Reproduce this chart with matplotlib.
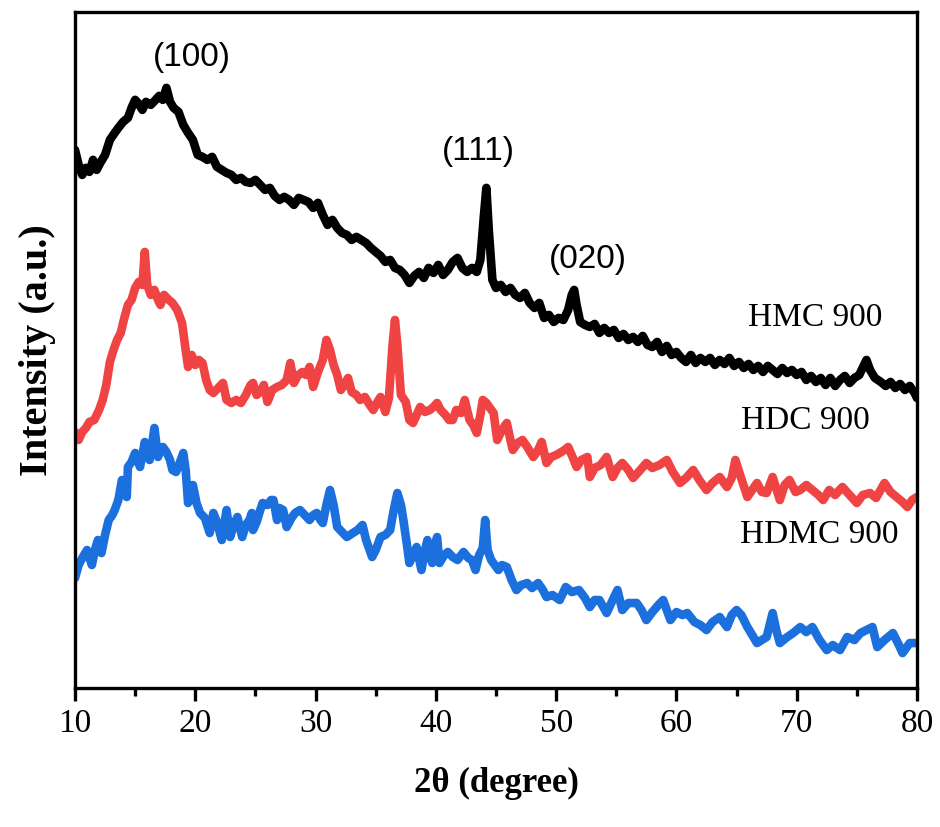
import matplotlib
matplotlib.use("Agg")
import matplotlib.pyplot as plt
from matplotlib.ticker import MultipleLocator

# ---------------- data (arbitrary units) ----------------
hmc_x = [10.0, 10.3, 10.6, 10.9, 11.2, 11.5, 11.8, 12.1, 12.5, 12.9,
         13.3, 13.6, 14.0, 14.4, 14.7, 15.0, 15.3, 15.6, 15.9, 16.3,
         16.7, 17.0, 17.3, 17.6, 17.9, 18.2, 18.6, 19.0, 19.4, 19.8,
         20.2, 20.6, 21.0, 21.4, 21.8, 22.2, 22.6, 23.0, 23.4, 23.8,
         24.2, 24.6, 25.0, 25.4, 25.8, 26.2, 26.6, 27.0, 27.4, 27.8,
         28.2, 28.6, 29.0, 29.4, 29.8, 30.2, 30.6, 31.0, 31.4, 31.8,
         32.2, 32.6, 33.0, 33.4, 33.8, 34.2, 34.6, 35.0, 35.4, 35.8,
         36.2, 36.6, 37.0, 37.4, 37.8, 38.2, 38.6, 39.0, 39.4, 39.8,
         40.2, 40.6, 41.0, 41.4, 41.8, 42.2, 42.6, 43.0, 43.4, 43.7,
         44.0, 44.2, 44.4, 44.7, 45.0, 45.4, 45.8, 46.2, 46.6, 47.0,
         47.4, 47.8, 48.2, 48.6, 49.0, 49.4, 49.8, 50.2, 50.6, 51.0,
         51.3, 51.5, 51.7, 52.0, 52.4, 52.8, 53.2, 53.6, 54.0, 54.4,
         54.8, 55.2, 55.6, 56.0, 56.4, 56.8, 57.2, 57.6, 58.0, 58.4,
         58.8, 59.2, 59.6, 60.0, 60.4, 60.8, 61.2, 61.6, 62.0, 62.4,
         62.8, 63.2, 63.6, 64.0, 64.4, 64.8, 65.2, 65.6, 66.0, 66.4,
         66.8, 67.2, 67.6, 68.0, 68.4, 68.8, 69.2, 69.6, 70.0, 70.4,
         70.8, 71.2, 71.6, 72.0, 72.4, 72.8, 73.2, 73.6, 74.0, 74.4,
         74.8, 75.2, 75.6, 75.8, 76.1, 76.5, 77.0, 77.4, 77.8, 78.2,
         78.6, 79.0, 79.4, 79.8, 80.0]
hmc_y = [538, 523, 513, 520, 516, 528, 518, 525, 533, 548,
         555, 560, 566, 570, 580, 588, 584, 578, 586, 583,
         588, 592, 588, 600, 586, 580, 576, 563, 555, 548,
         533, 531, 528, 531, 521, 518, 515, 513, 508, 510,
         506, 505, 508, 503, 498, 500, 492, 488, 491, 488,
         483, 490, 488, 486, 480, 485, 473, 463, 468, 460,
         455, 453, 448, 451, 448, 445, 440, 436, 432, 426,
         428, 420, 418, 413, 405, 412, 416, 410, 420, 415,
         423, 413, 418, 426, 430, 420, 416, 420, 416, 428,
         473, 500, 458, 408, 400, 403, 396, 400, 393, 390,
         395, 385, 380, 385, 370, 373, 366, 370, 368, 378,
         393, 398, 383, 366, 363, 361, 364, 355, 360, 355,
         358, 350, 354, 348, 351, 346, 352, 343, 341, 346,
         336, 342, 333, 336, 330, 326, 333, 325, 330, 326,
         330, 323, 328, 324, 330, 322, 326, 320, 324, 318,
         322, 316, 322, 318, 314, 320, 315, 318, 313, 316,
         308, 312, 306, 310, 303, 310, 302, 308, 312, 305,
         310, 313, 323, 328, 318, 310, 306, 302, 306, 300,
         304, 298, 302, 295, 290]

hdc_x = [10.0, 10.3, 10.6, 10.9, 11.2, 11.6, 12.0, 12.3, 12.6, 12.9,
         13.2, 13.5, 13.8, 14.1, 14.4, 14.7, 15.0, 15.3, 15.6, 15.8,
         16.0, 16.3, 16.6, 16.9, 17.1, 17.4, 17.8, 18.1, 18.5, 18.9,
         19.2, 19.4, 19.7, 20.0, 20.3, 20.6, 20.9, 21.2, 21.5, 21.9,
         22.3, 22.6, 23.0, 23.4, 23.8, 24.2, 24.6, 24.8, 25.1, 25.4,
         25.7, 26.0, 26.4, 26.8, 27.2, 27.6, 27.9, 28.2, 28.5, 28.9,
         29.2, 29.5, 29.8, 30.2, 30.6, 30.9, 31.2, 31.5, 31.8, 32.1,
         32.4, 32.7, 33.0, 33.4, 33.7, 34.1, 34.5, 34.8, 35.1, 35.4,
         35.8, 36.1, 36.4, 36.6, 36.8, 37.1, 37.5, 37.8, 38.1, 38.4,
         38.7, 39.1, 39.5, 39.8, 40.1, 40.4, 40.8, 41.1, 41.4, 41.7,
         42.1, 42.4, 42.8, 43.1, 43.4, 43.7, 43.9, 44.2, 44.5, 44.8,
         45.1, 45.5, 45.9, 46.2, 46.4, 46.8, 47.2, 47.6, 48.1, 48.5,
         48.8, 49.2, 49.6, 50.0, 50.3, 50.7, 51.0, 51.4, 51.7, 52.1,
         52.6, 52.8, 53.2, 53.7, 54.2, 54.7, 55.1, 55.5, 56.0, 56.4,
         57.0, 57.5, 58.0, 58.6, 59.2, 59.7, 60.3, 60.8, 61.4, 61.9,
         62.5, 63.0, 63.6, 64.2, 64.6, 64.9, 65.3, 65.9, 66.3, 66.7,
         67.1, 67.5, 68.0, 68.6, 69.0, 69.4, 69.9, 70.3, 70.8, 71.3,
         71.8, 72.2, 72.7, 73.2, 73.8, 74.4, 75.0, 75.5, 76.1, 76.6,
         77.3, 77.8, 78.3, 78.8, 79.2, 79.6, 80.0]
hdc_y = [256, 248, 256, 260, 266, 268, 278, 288, 303, 326,
         338, 348, 355, 370, 383, 388, 400, 406, 403, 436,
         403, 393, 398, 388, 383, 393, 388, 385, 378, 365,
         338, 321, 333, 323, 328, 325, 308, 298, 295, 300,
         305, 288, 285, 288, 285, 293, 303, 305, 293, 296,
         303, 286, 298, 301, 303, 308, 325, 305, 312, 316,
         313, 321, 301, 316, 328, 348, 338, 323, 313, 298,
         303, 310, 296, 293, 288, 291, 283, 278, 285, 291,
         276, 290, 343, 368, 343, 293, 286, 268, 265, 273,
         281, 276, 278, 281, 285, 278, 273, 268, 268, 278,
         275, 288, 268, 263, 255, 273, 288, 285, 280, 275,
         248, 258, 265, 248, 238, 245, 248, 241, 231, 238,
         246, 225, 231, 233, 235, 238, 241, 230, 221, 228,
         231, 211, 220, 223, 231, 211, 220, 225, 218, 210,
         218, 225, 220, 223, 228, 216, 205, 210, 218, 208,
         198, 205, 211, 201, 210, 228, 213, 191, 198, 205,
         196, 195, 211, 188, 203, 208, 196, 198, 203, 198,
         193, 188, 198, 193, 201, 193, 185, 193, 195, 190,
         205, 196, 191, 186, 181, 188, 191]

hdmc_x = [10.0, 10.3, 10.6, 11.0, 11.4, 11.7, 11.9, 12.2, 12.5, 12.8,
          13.1, 13.3, 13.6, 13.9, 14.1, 14.3, 14.4, 14.7, 15.0, 15.4,
          15.6, 15.8, 16.0, 16.2, 16.4, 16.6, 16.9, 17.1, 17.3, 17.6,
          17.9, 18.1, 18.4, 18.7, 19.0, 19.2, 19.4, 19.6, 19.8, 20.1,
          20.4, 20.8, 21.2, 21.5, 21.8, 22.2, 22.4, 22.6, 22.9, 23.2,
          23.5, 23.9, 24.2, 24.5, 24.7, 24.8, 25.1, 25.4, 25.6, 26.0,
          26.3, 26.5, 26.8, 27.0, 27.3, 27.6, 28.0, 28.3, 28.7, 29.1,
          29.5, 29.8, 30.1, 30.4, 30.6, 30.9, 31.2, 31.5, 31.8, 32.2,
          32.6, 33.1, 33.5, 33.9, 34.2, 34.7, 35.0, 35.4, 35.8, 36.2,
          36.5, 36.8, 37.1, 37.3, 37.6, 37.8, 38.1, 38.4, 38.8, 39.1,
          39.3, 39.5, 39.7, 39.9, 40.1, 40.3, 40.7, 41.0, 41.4, 41.8,
          42.3, 42.7, 43.0, 43.3, 43.6, 43.9, 44.1, 44.3, 44.6, 45.2,
          45.5, 45.9, 46.3, 46.7, 47.1, 47.6, 48.0, 48.5, 48.9, 49.2,
          49.7, 50.3, 50.8, 51.3, 51.9, 52.4, 52.8, 53.2, 53.6, 54.2,
          54.7, 55.1, 55.5, 56.0, 56.7, 57.1, 57.5, 58.0, 58.5, 58.9,
          59.5, 60.0, 60.5, 60.9, 61.5, 62.0, 62.5, 63.0, 63.6, 64.2,
          64.6, 65.0, 65.4, 65.9, 66.3, 66.7, 67.1, 67.5, 68.0, 68.3,
          68.6, 69.1, 69.7, 70.3, 70.8, 71.3, 71.9, 72.5, 73.0, 73.6,
          74.2, 74.8, 75.3, 75.8, 76.3, 76.7, 77.3, 78.0, 78.5, 78.8,
          79.1, 79.4, 80.0]
hdmc_y = [110, 123, 130, 138, 123, 140, 148, 135, 153, 168,
          173, 178, 188, 208, 198, 191, 221, 226, 235, 221,
          233, 246, 238, 228, 243, 260, 231, 238, 241, 236,
          228, 218, 216, 225, 235, 218, 185, 193, 203, 185,
          175, 170, 155, 175, 166, 148, 163, 178, 151, 163,
          171, 151, 163, 168, 175, 158, 166, 178, 185, 183,
          188, 188, 168, 180, 178, 161, 170, 175, 178, 173,
          168, 173, 175, 168, 165, 183, 198, 183, 161, 156,
          151, 155, 158, 163, 148, 131, 138, 151, 153, 158,
          178, 195, 183, 168, 143, 125, 133, 141, 118, 138,
          148, 133, 125, 140, 151, 125, 133, 136, 131, 128,
          136, 130, 128, 118, 133, 140, 168, 138, 128, 118,
          123, 121, 108, 98, 103, 105, 100, 105, 98, 91,
          93, 88, 101, 96, 98, 90, 81, 88, 88, 75,
          88, 98, 78, 85, 85, 78, 68, 76, 83, 88,
          68, 76, 73, 75, 66, 63, 58, 66, 71, 61,
          73, 78, 73, 61, 53, 45, 48, 51, 75, 58,
          45, 50, 55, 61, 56, 61, 48, 38, 43, 38,
          51, 48, 55, 58, 61, 41, 48, 55, 43, 35,
          40, 45, 45]

sample_labels = ["HMC 900", "HDC 900", "HDMC 900"]
peak_labels = ["(100)", "(111)", "(020)"]
peak_pos = [(19.7, 630), (43.5, 536), (52.6, 428)]
sample_label_pos = [(71.5, 370), (70.7, 267), (71.9, 153)]
xticks = [10, 20, 30, 40, 50, 60, 70, 80]

# ---------------- figure ----------------
fig = plt.figure(figsize=(9.4, 8.27), dpi=100)
ax = fig.add_axes([0.0798, 0.168, 0.8957, 0.8177])

lw = 6.2
ax.plot(hmc_x, hmc_y, color="#000000", lw=lw, solid_joinstyle="round", solid_capstyle="round")
ax.plot(hdc_x, hdc_y, color="#F04343", lw=lw, solid_joinstyle="round", solid_capstyle="round")
ax.plot(hdmc_x, hdmc_y, color="#1B70DE", lw=lw, solid_joinstyle="round", solid_capstyle="round")

ax.set_xlim(10, 80)
ax.set_ylim(0, 676)
ax.set_xticks(xticks)
ax.xaxis.set_minor_locator(MultipleLocator(5))
ax.set_yticks([])

for s in ax.spines.values():
    s.set_linewidth(2.4)

ax.tick_params(axis="x", which="major", direction="out", length=9.5, width=2.4,
               labelsize=24, pad=5)
ax.tick_params(axis="x", which="minor", direction="out", length=6, width=2.4)
for lab in ax.get_xticklabels():
    lab.set_fontfamily("Liberation Serif")

ax.set_xlabel("2θ (degree)", fontsize=25, fontweight="bold",
              fontfamily="Liberation Serif", labelpad=20)
ax.set_ylabel("Intensity (a.u.)", fontsize=29, fontweight="bold",
              fontfamily="Liberation Serif", labelpad=14)

for lab, (px, py) in zip(peak_labels, peak_pos):
    ax.text(px, py, lab, fontsize=24, fontfamily="Liberation Sans",
            ha="center", va="center")
for lab, (px, py) in zip(sample_labels, sample_label_pos):
    ax.text(px, py, lab, fontsize=24, fontfamily="Liberation Serif",
            ha="center", va="center")

fig.savefig("out.png", dpi=100)
